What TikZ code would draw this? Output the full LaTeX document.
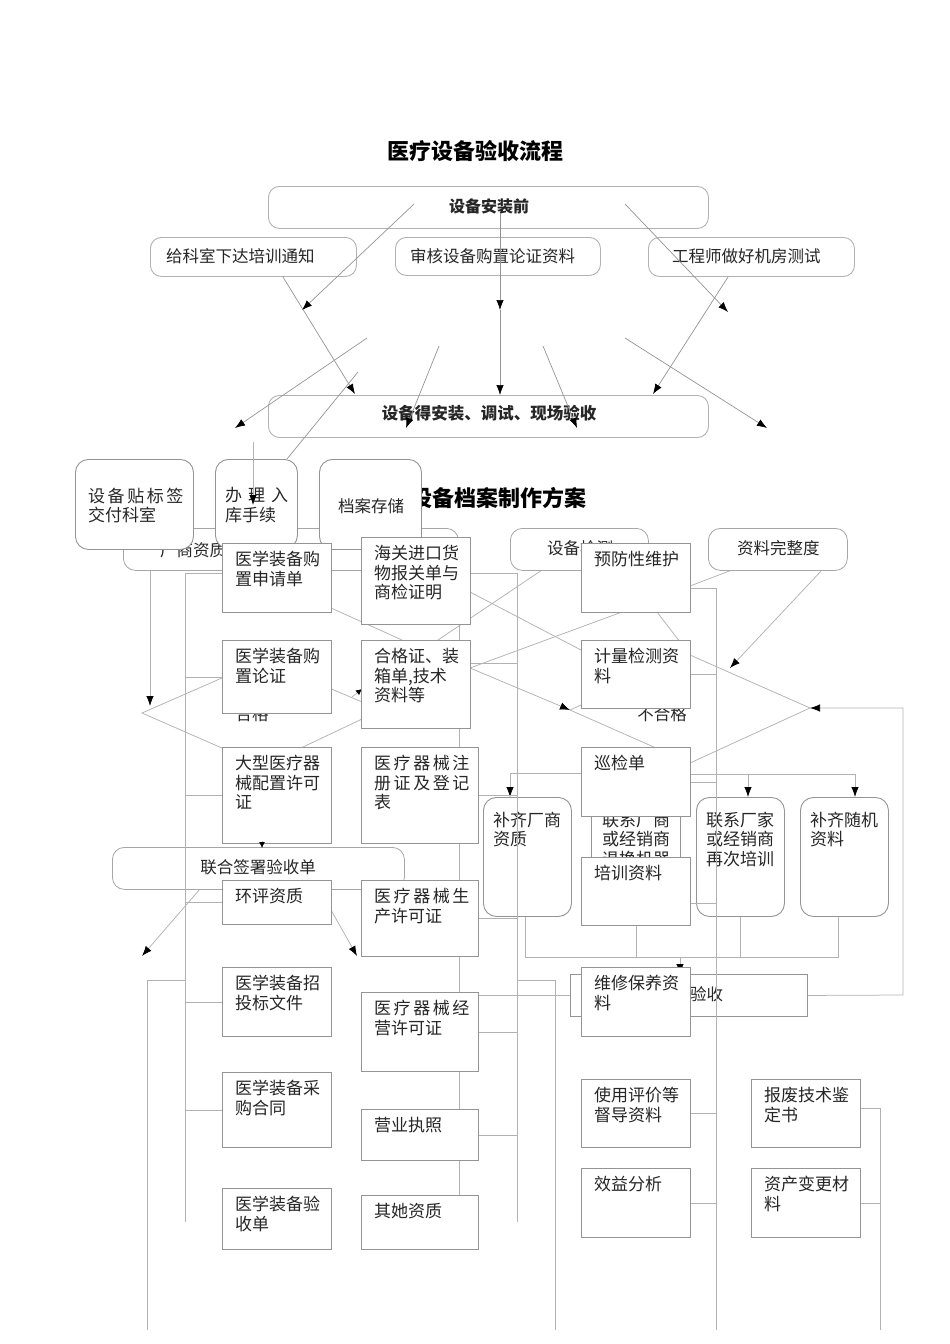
\documentclass[tikz,border=0pt]{standalone}
\usepackage{fontspec}
\setmainfont{Noto Sans CJK SC}
\usetikzlibrary{arrows.meta}
\newcommand\shp[6]{\node[#1,minimum width=#5pt,minimum height=#6pt,anchor=north west] (#2) at (#3,#4) {};}
\newcommand\tx[4]{\node[txt] (#1t) at ([xshift=#2pt,yshift=-#3pt]#1.north west) {#4};}
\newcommand\spr[2]{\makebox[#1pt][s]{#2}}
\tikzset{
 ln/.style={draw=black!30, line width=0.75pt},
 tln/.style={draw=black!42, line width=0.7pt},
 arr/.style={ln, -{Latex[length=10pt,width=7.5pt,color=black]}},
 sarr/.style={ln, -{Latex[length=6pt,width=6pt,color=black]}},
 tarr/.style={tln, -{Latex[length=10pt,width=7.5pt,color=black]}},
 box/.style={draw=black!42, fill=white, line width=0.9pt, inner sep=0pt},
 rbox/.style={box, rounded corners=13pt},
 tbox/.style={box, draw=black!30, rounded corners=11pt},
 obox/.style={draw=black!35, fill=white, line width=0.8pt, inner sep=0pt, rounded corners=12pt},
 txt/.style={inner sep=0pt, anchor=north west, align=left, font=\fontsize{17}{19.5}\selectfont, text=black!85},
 lbl/.style={inner sep=0pt, font=\fontsize{16.5}{19}\selectfont, text=black!85},
 ttl/.style={inner sep=0pt, font=\fontsize{22}{24}\selectfont\bfseries},
}
\begin{document}
\begin{tikzpicture}[x=1pt,y=-1pt]
\useasboundingbox (0,0) rectangle (950,1344);

% ---------- first chart ----------
\node[ttl] (T1) at (475,151) {医疗设备验收流程};

\shp{tbox}{P0}{268}{186}{440}{42}
\node[lbl,font=\fontsize{16}{18}\selectfont\bfseries] (P0t) at (489,206) {设备安装前};
\shp{tbox}{P1}{150}{237}{206}{39}
\node[lbl,anchor=west] (P1t) at (166,256) {给科室下达培训通知};
\shp{tbox}{P2}{395}{237}{205}{38}
\node[lbl,anchor=west] (P2t) at (410,256) {审核设备购置论证资料};
\shp{tbox}{P3}{648}{237}{206}{39}
\node[lbl,anchor=west] (P3t) at (672,256) {工程师做好机房测试};
\shp{tbox}{P4}{268}{395}{440}{42}
\node[lbl,font=\fontsize{16.5}{18}\selectfont\bfseries] (P4t) at (489,413) {设备得安装、调试、现场验收};

\coordinate (u1) at (414,204); \coordinate (v1) at (302,310);
\coordinate (u2) at (500,213); \coordinate (v2) at (500,310); \coordinate (w2) at (500,395);
\coordinate (u3) at (625,204); \coordinate (v3) at (728,312);
\coordinate (u4) at (283,277); \coordinate (v4) at (355,394);
\coordinate (u5) at (728,277); \coordinate (v5) at (653,394);
\coordinate (u6) at (367,338); \coordinate (v6) at (235,428);
\coordinate (u7) at (439,346); \coordinate (v7) at (406,428);
\coordinate (u8) at (543,346); \coordinate (v8) at (577,428);
\coordinate (u9) at (625,338); \coordinate (v9) at (767,428);
\draw[tarr] (u1) -- (v1);
\draw[tarr] (u2) -- (v2);
\draw[tarr] (v2) -- (w2);
\draw[tarr] (u3) -- (v3);
\draw[tarr] (u4) -- (v4);
\draw[tarr] (u5) -- (v5);
\draw[tarr] (u6) -- (v6);
\draw[tarr] (u7) -- (v7);
\draw[tarr] (u8) -- (v8);
\draw[tarr] (u9) -- (v9);

% ---------- lines behind the second chart ----------
\coordinate (dL) at (142,713); \coordinate (dT) at (263,660);
\coordinate (dR) at (381,710); \coordinate (dB) at (263,766);
\draw[ln] (dL) -- (dT) -- (dR) -- (dB) -- cycle;
\coordinate (eL) at (570,710); \coordinate (eT) at (690,655);
\coordinate (eR) at (810,708); \coordinate (eB) at (690,763);
\draw[ln] (eL) -- (eT) -- (eR) -- (eB) -- cycle;

\coordinate (k1a) at (150,570); \coordinate (k1b) at (150,706);
\draw[arr] (k1a) -- (k1b);
\coordinate (m1) at (470,668);
\draw[arr] (m1) -- (eL);
\coordinate (m2) at (657,612);
\draw[arr] (m2) -- (eT);
\coordinate (m3) at (822,570); \coordinate (m4) at (730,668);
\draw[arr] (m3) -- (m4);
\coordinate (m5) at (732,570); \coordinate (m6) at (690,586);
\draw[ln] (m5) -- (m6);
\coordinate (m7) at (542,570); \coordinate (m8) at (438,640);
\draw[ln] (m7) -- (m8);
\coordinate (m9) at (622,612);
\draw[ln] (m9) -- (m1);
\coordinate (n1) at (470,592); \coordinate (n2) at (581,650);
\draw[ln] (n1) -- (n2);
\coordinate (n3) at (331,608); \coordinate (n4) at (402,640);
\draw[ln] (n3) -- (n4);
\coordinate (n5) at (352,697); \coordinate (n6) at (362,689);
\draw[sarr] (n5) -- (n6);

\coordinate (j1) at (200,889); \coordinate (j2) at (142,956);
\coordinate (j3) at (331,910); \coordinate (j4) at (357,956);
\draw[arr] (j1) -- (j2);
\draw[arr] (j3) -- (j4);
\coordinate (x1) at (459,570); \coordinate (x2) at (459,1195);
\draw[ln] (x1) -- (x2);

\node[lbl] (ok) at (252,714) {合格};
\node[lbl] (nok) at (662,714) {不合格};

% ---------- background bars ----------
\shp{obox}{K1}{123}{528}{335}{42}
\node[lbl,anchor=west] (K1t) at (160,550) {厂商资质};
\shp{obox}{K2}{510}{528}{138}{42}
\node[lbl,anchor=west] (K2t) at (547,548) {设备检测};
\shp{obox}{K3}{708}{528}{139}{42}
\node[lbl,anchor=west] (K3t) at (737,548) {资料完整度};

\node[ttl] (T2) at (498,498) {设备档案制作方案};

\shp{rbox}{M1}{75}{459}{118}{90}
\tx{M1}{13}{28.5}{\spr{95}{设 备 贴 标 签}\\交付科室}
\shp{rbox}{M2}{215}{459}{82}{89}
\tx{M2}{10}{28.5}{\spr{63}{办 理 入}\\库手续}
\shp{rbox}{M3}{319}{459}{102}{90}
\node[lbl,anchor=west] (M3t) at (338,506) {档案存储};

\coordinate (y1) at (253,442); \coordinate (y2) at (253,505);
\draw[arr] (y1) -- (y2);
\coordinate (y3) at (358,372); \coordinate (y4) at (287,459);
\draw[tln] (y3) -- (y4);

\shp{obox}{J}{112}{847}{292}{42}
\node[lbl] (Jt) at (258,867) {联合签署验收单};
\shp{box}{V}{570}{974}{237}{42}
\node[lbl,anchor=west] (Vt) at (690,994) {验收};

% ---------- rounded action boxes ----------
\shp{rbox}{R0}{591}{797}{89}{119}
\tx{R0}{11}{14.5}{联系厂商\\或经销商\\退换机器}
\shp{rbox}{R1}{483}{797}{88}{119}
\tx{R1}{10}{14.5}{补齐厂商\\资质}
\shp{rbox}{R2}{696}{797}{88}{119}
\tx{R2}{10}{14.5}{联系厂家\\或经销商\\再次培训}
\shp{rbox}{R3}{800}{797}{88}{119}
\tx{R3}{10}{14.5}{补齐随机\\资料}

\coordinate (c1) at (525,957); \coordinate (c2) at (838,957); \coordinate (c3) at (680,957);
\draw[arr] (c3) -- (c3 |- V.north);

% ---------- document boxes ----------
\shp{box}{A1}{222}{543}{109}{69}
\tx{A1}{13}{8}{医学装备购\\置申请单}
\shp{box}{A2}{222}{640}{109}{73}
\tx{A2}{13}{8}{医学装备购\\置论证}
\shp{box}{A3}{222}{747}{109}{96}
\tx{A3}{13}{8}{大型医疗器\\械配置许可\\证}
\shp{box}{A4}{222}{880}{109}{44}
\tx{A4}{13}{8}{环评资质}
\shp{box}{A5}{222}{967}{109}{69}
\tx{A5}{13}{8}{医学装备招\\投标文件}
\shp{box}{A6}{222}{1072}{109}{75}
\tx{A6}{13}{8}{医学装备采\\购合同}
\shp{box}{A7}{222}{1188}{109}{61}
\tx{A7}{13}{8}{医学装备验\\收单}

\shp{box}{B1}{361}{537}{109}{87}
\tx{B1}{13}{8}{海关进口货\\物报关单与\\商检证明}
\shp{box}{B2}{361}{640}{109}{88}
\tx{B2}{13}{8}{合格证、装\\箱单,技术\\资料等}
\shp{box}{B3}{361}{747}{117}{96}
\tx{B3}{13}{8}{\spr{92}{医 疗 器 械 注}\\\spr{92}{册 证 及 登 记}\\表}
\shp{box}{B4}{361}{880}{117}{76}
\tx{B4}{13}{8}{\spr{92}{医 疗 器 械 生}\\产许可证}
\shp{box}{B5}{361}{992}{117}{79}
\tx{B5}{13}{8}{\spr{92}{医 疗 器 械 经}\\营许可证}
\shp{box}{B6}{361}{1109}{117}{51}
\tx{B6}{13}{8}{营业执照}
\shp{box}{B7}{361}{1195}{117}{54}
\tx{B7}{13}{8}{其她资质}

\shp{box}{C1}{581}{543}{109}{69}
\tx{C1}{13}{8}{预防性维护}
\shp{box}{C2}{581}{640}{109}{68}
\tx{C2}{13}{8}{计量检测资\\料}
\shp{box}{C3}{581}{747}{109}{69}
\tx{C3}{13}{8}{巡检单}
\shp{box}{C4}{581}{857}{109}{68}
\tx{C4}{13}{8}{培训资料}
\shp{box}{C5}{581}{967}{109}{69}
\tx{C5}{13}{8}{维修保养资\\料}
\shp{box}{C6}{581}{1079}{109}{68}
\tx{C6}{13}{8}{使用评价等\\督导资料}
\shp{box}{C7}{581}{1168}{109}{69}
\tx{C7}{13}{8}{效益分析}

\shp{box}{D1}{751}{1079}{109}{68}
\tx{D1}{13}{8}{报废技术鉴\\定书}
\shp{box}{D2}{751}{1168}{109}{69}
\tx{D2}{13}{8}{资产变更材\\料}

% ---------- connectors over the boxes ----------
\coordinate (z1) at (262,841); \coordinate (z2) at (262,848);
\draw[sarr] (z1) -- (z2);

\coordinate (q1) at (510,773); \coordinate (q2) at (855,774); \coordinate (q3) at (748,774);
\draw[arr] (C3.west |- q1) -- (q1) -- (q1 |- R1.north);
\draw[ln] (C3.east |- q2) -- (q2);
\draw[arr] (q2) -- (q2 |- R3.north);
\draw[arr] (q3) -- (q3 |- R2.north);

\draw[ln] (R1.south -| c1) -- (c1) -- (c2) -- (c2 |- R3.south);
\draw[ln] (C4.south) -- (C4.south |- c1);
\draw[ln] (R2.south) -- (R2.south |- c1);

\coordinate (r1) at (903,995); \coordinate (r2) at (903,708);
\draw[arr] (V.east) -- (r1) -- (r2) -- (eR);

% tree for column A
\coordinate (g1) at (185,573); \coordinate (g1b) at (185,1222);
\coordinate (g1o) at (147,980); \coordinate (g1z) at (147,1330);
\draw[ln] (A1.west |- g1) -- (g1) -- (g1b);
\foreach \n in {A2,A3,A4,A5,A6} \draw[ln] (\n.west) -- (\n.west -| g1);
\draw[ln] (g1 |- g1o) -- (g1o) -- (g1z);

% tree for column B
\coordinate (g2) at (517,573); \coordinate (g2b) at (517,1222);
\coordinate (g2o) at (555,980); \coordinate (g2z) at (555,1330);
\coordinate (h2) at (0,663);
\draw[ln] (B1.east |- g2) -- (g2) -- (g2b);
\draw[ln] (B2.east |- h2) -- (g2 |- h2);
\foreach \n in {B3,B4,B5,B6} \draw[ln] (\n.east) -- (\n.east -| g2);
\draw[ln] (B5.east |- V.west) -- (V.west);
\draw[ln] (g2 |- g2o) -- (g2o) -- (g2z);

% tree for column C
\coordinate (g3) at (716,588); \coordinate (g3z) at (716,1330);
\coordinate (h3) at (0,903);
\draw[ln] (C1.east |- g3) -- (g3) -- (g3z);
\foreach \n in {C2,C3,C6,C7} \draw[ln] (\n.east) -- (\n.east -| g3);
\draw[ln] (C4.east |- h3) -- (g3 |- h3);

% tree for column D
\coordinate (g4) at (880,1108); \coordinate (g4z) at (880,1330);
\draw[ln] (D1.east |- g4) -- (g4) -- (g4z);
\draw[ln] (D2.east) -- (D2.east -| g4);

\end{tikzpicture}
\end{document}
